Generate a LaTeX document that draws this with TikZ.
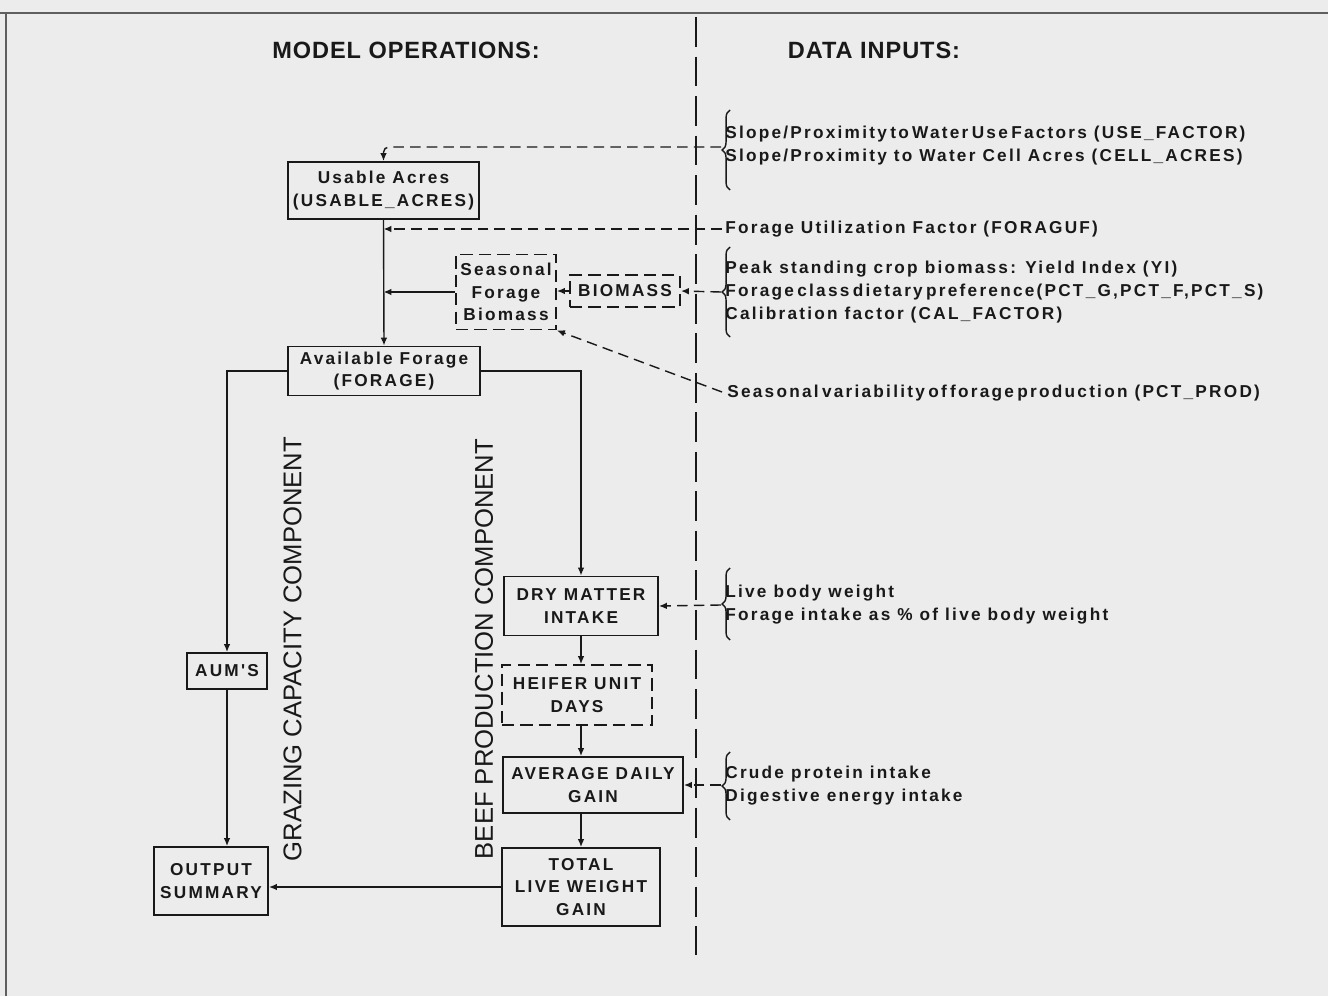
\documentclass[tikz,border=0pt]{standalone}
\usepackage{fontspec}
\setmainfont{Liberation Sans}
\newfontfamily\boxfont{Liberation Sans}[LetterSpace=13]
\newfontfamily\headfont{Liberation Sans}[LetterSpace=4]
\usetikzlibrary{arrows.meta, positioning, decorations.pathreplacing, calc}
\definecolor{paper}{RGB}{236,236,236}
\definecolor{ink}{RGB}{25,25,25}
\definecolor{framegray}{RGB}{95,95,95}
\newlength{\px}
\setlength{\px}{0.02cm}

\tikzset{
  opbox/.style={draw=ink, line width=1.1pt, align=center, inner sep=0pt,
                text=ink, font=\boxfont\bfseries\fontsize{9.8}{12.8}\selectfont},
  inbox/.style={opbox, dash pattern=on 7pt off 3.5pt},
  flow/.style={draw=ink, line width=0.8pt, -{Latex[length=4.5pt,width=3.8pt]}},
  feed/.style={flow, dash pattern=on 6pt off 3.5pt},
  inputs/.style={anchor=west, align=left, inner sep=0pt, text=ink,
                 font=\boxfont\bfseries\fontsize{9.8}{13}\selectfont},
  bracket/.style={draw=ink, line width=0.8pt, decorate,
                  decoration={brace, amplitude=4.5pt}},
  heading/.style={text=ink, inner sep=0pt, font=\headfont\bfseries\fontsize{13.4}{15}\selectfont},
  component/.style={text=ink, inner sep=0pt, rotate=90, font=\fontsize{14.6}{16}\selectfont}
}

\begin{document}
\begin{tikzpicture}[x=0.02cm, y=-0.02cm]
  \useasboundingbox (0,0) rectangle (1328,996);
  \fill[paper] (0,0) rectangle (1328,996);
  % page frame
  \draw[framegray, line width=1.2pt] (0,13) -- (1328,13);
  \draw[framegray, line width=0.6pt] (6,13) -- (6,996);

  % headings and divider
  \node[heading] (modelhead) at (406,50) {MODEL OPERATIONS:};
  \node[heading] (datahead) at (874,50) {DATA INPUTS:};
  \draw[ink, line width=1pt, dash pattern=on 17pt off 5.5pt] (696,17) -- (696,955);

  % model operations
  \node[opbox, minimum width=191\px, minimum height=57\px] (usable) at (383.5,190.5)
    {Usable Acres\\(USABLE\_ACRES)};
  \node[inbox, minimum width=100\px, minimum height=75\px] (seasonal) at (506,292)
    {Seasonal\\Forage\\Biomass};
  \node[inbox, minimum width=110\px, minimum height=32\px] (biomass) at (625,291) {BIOMASS};
  \node[opbox, minimum width=192\px, minimum height=49\px] (available) at (384,371)
    {Available Forage\\(FORAGE)};
  \node[opbox, minimum width=80\px, minimum height=36\px] (aums) at (227,671) {AUM'S};
  \node[opbox, minimum width=114\px, minimum height=68\px] (output) at (211,881)
    {OUTPUT\\SUMMARY};
  \node[opbox, minimum width=154\px, minimum height=59\px] (drymatter) at (581,606)
    {DRY MATTER\\INTAKE};
  \node[inbox, minimum width=150\px, minimum height=60\px] (heifer) at (577,695)
    {HEIFER UNIT\\DAYS};
  \node[opbox, minimum width=180\px, minimum height=56\px] (adg) at (593,785)
    {AVERAGE DAILY\\GAIN};
  \node[opbox, minimum width=158\px, minimum height=78\px] (total) at (581,887)
    {TOTAL\\LIVE WEIGHT\\GAIN};

  \node[component] (grazing) at (292.5,649) {GRAZING CAPACITY COMPONENT};
  \node[component] (beef) at (484,649) {BEEF PRODUCTION COMPONENT};

  % model flow
  \draw[flow] (usable.south) -- (available.north);
  \draw[flow] (seasonal.west) -- (seasonal.west -| usable.south);
  \draw[flow] (biomass.west) -- (biomass.west -| seasonal.east);
  \draw[flow] (available.west) -| (aums.north);
  \draw[flow] (available.east) -| (drymatter.north);
  \draw[flow] (aums.south) -- (aums.south |- output.north);
  \draw[flow] (drymatter.south) -- (drymatter.south |- heifer.north);
  \draw[flow] (heifer.south -| drymatter.south) -- (adg.north -| drymatter.south);
  \draw[flow] (adg.south -| drymatter.south) -- (total.north -| drymatter.south);
  \draw[flow] (total.west) -- (total.west -| output.east);

  % data inputs
  \coordinate (usein) at (721,147);
  \coordinate (ufin) at (722,229);
  \coordinate (yieldin) at (721,292);
  \coordinate (prodin) at (722,392);
  \coordinate (weightin) at (721,605);
  \coordinate (proteinin) at (721,785);

  \draw[bracket] (730,190) -- (730,110);
  \node[inputs] (usefactor) at (725,134)
    {{\spaceskip=0.2em Slope/Proximity to Water Use Factors} (USE\_FACTOR)};
  \node[inputs] (cellacres) at (725,157)
    {Slope/Proximity to Water Cell Acres (CELL\_ACRES)};
  \node[inputs] (foraguf) at (725,229) {Forage Utilization Factor (FORAGUF)};

  \draw[bracket] (730,337) -- (730,247);
  \node[inputs] (yield) at (725,269) {Peak standing crop biomass: Yield Index (YI)};
  \node[inputs] (pctg) at (725,292)
    {{\spaceskip=0.2em Forage class dietary preference}(PCT\_G,PCT\_F,PCT\_S)};
  \node[inputs] (calfactor) at (725,315) {Calibration factor (CAL\_FACTOR)};

  \node[inputs] (pctprod) at (727,393)
    {{\spaceskip=0.2em Seasonal variability of forage production} (PCT\_PROD)};

  \draw[bracket] (730,640) -- (730,568);
  \node[inputs] (bodyweight) at (725,593) {Live body weight};
  \node[inputs] (intake) at (725,616) {Forage intake as \% of live body weight};

  \draw[bracket] (730,820) -- (730,752);
  \node[inputs] (protein) at (725,774) {Crude protein intake};
  \node[inputs] (energy) at (725,797) {Digestive energy intake};

  \draw[feed, rounded corners=3pt] (usein) -| (usable.north);
  \draw[feed] (ufin) -- (ufin -| usable.south);
  \draw[feed] (yieldin) -- (biomass.east);
  \draw[feed] (prodin) -- (seasonal.south east);
  \draw[feed] (weightin) -- (drymatter.east);
  \draw[feed] (proteinin) -- (adg.east);
\end{tikzpicture}
\end{document}
